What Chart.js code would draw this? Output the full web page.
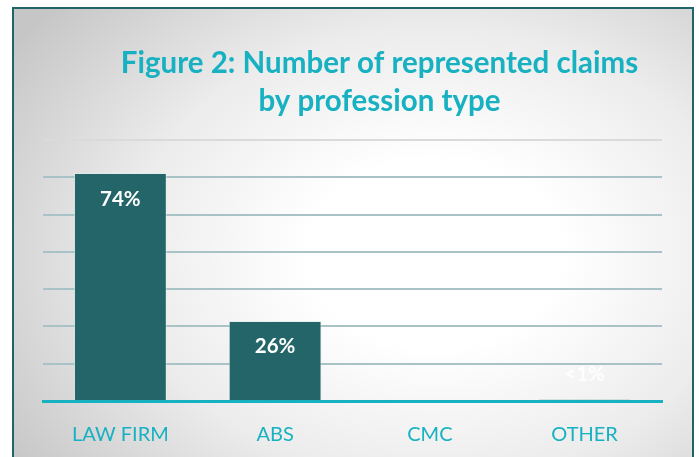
<!DOCTYPE html>
<html>
<head>
<meta charset="utf-8">
<script src="https://cdn.jsdelivr.net/npm/chart.js@4"></script>
<style>
  html, body { margin: 0; padding: 0; background: #fff; }
  body { width: 699px; height: 457px; position: relative; overflow: hidden; }
  .frame {
    position: absolute; left: 12px; top: 7px; width: 678px; height: 470px;
    border: 2px solid #1f6468; border-bottom: none;
    background: radial-gradient(ellipse 75% 80% at 62% 52%, #ffffff 25%, #ececec 60%, #c6c6c6 100%);
  }
  canvas { position: absolute; left: 0; top: 0; }
</style>
</head>
<body>
<div class="frame"></div>
<canvas id="bar-chart" width="699" height="457"></canvas>
<script>
const categories = ["LAW FIRM", "ABS", "CMC", "OTHER"];
const shares = [74, 26, 0, 0.5];
const shareLabels = ["74%", "26%", "", "<1%"];
const gridTicks = [0, 12.1, 24.2, 36.3, 48.4, 60.5, 72.6, 84.7];
const titleLines = ["Figure 2: Number of represented claims", "by profession type"];

const teal = '#17b1c1';
const font = 'Lato, "Liberation Sans", sans-serif';

// title + labels drawn on the canvas
const extraText = {
  id: 'extraText',
  afterDatasetsDraw(chart) {
    const ctx = chart.ctx;
    const area = chart.chartArea;
    ctx.save();
    ctx.textAlign = 'center';
    ctx.textBaseline = 'middle';

    ctx.fillStyle = teal;
    ctx.font = 'bold 29.5px ' + font;
    const cx = (area.left + area.right) / 2 + 27;
    ctx.fillText(titleLines[0], cx, area.top - 77);
    ctx.fillText(titleLines[1], cx, area.top - 39);

    ctx.font = 'bold 20.5px ' + font;
    chart.getDatasetMeta(0).data.forEach((bar, i) => {
      if (!shareLabels[i]) return;
      const y = Math.min(bar.y + 26, bar.base - 26);
      ctx.fillStyle = i === 3 ? 'rgba(255,255,255,0.9)' : '#ffffff';
      ctx.fillText(shareLabels[i], bar.x, y);
    });
    ctx.restore();
  }
};

new Chart(document.getElementById("bar-chart"), {
  type: 'bar',
  data: {
    labels: categories,
    datasets: [{
      data: shares,
      backgroundColor: '#246569',
      borderColor: 'rgba(225,235,236,0.7)',
      borderWidth: 1,
      borderSkipped: 'bottom',
      categoryPercentage: 1,
      barPercentage: 0.6
    }]
  },
  options: {
    responsive: false,
    animation: false,
    layout: { padding: { left: 43, right: 37, top: 140, bottom: 0 } },
    plugins: {
      legend: { display: false },
      tooltip: { enabled: false }
    },
    scales: {
      x: {
        grid: { display: false },
        border: { color: teal, width: 3 },
        ticks: { color: teal, font: { family: font, size: 20 }, padding: 14 },
        afterFit: (scale) => { scale.height = 56; }
      },
      y: {
        min: 0,
        max: gridTicks[gridTicks.length - 1],
        afterBuildTicks: (scale) => { scale.ticks = gridTicks.map(v => ({ value: v })); },
        ticks: { display: false },
        border: { display: false },
        grid: {
          color: (c) => c.index === gridTicks.length - 1 ? '#dadada' : '#a8c2c5',
          lineWidth: 2,
          drawTicks: false
        }
      }
    }
  },
  plugins: [extraText]
});
</script>
</body>
</html>
